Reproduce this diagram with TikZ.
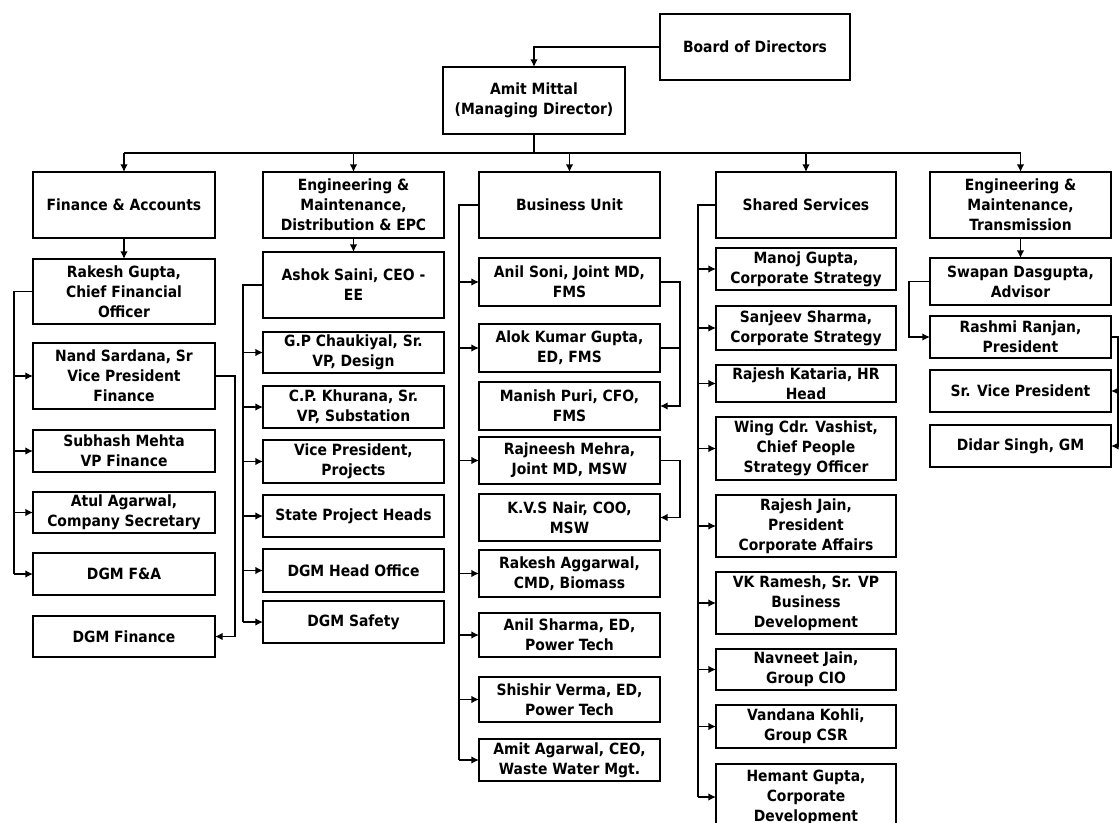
\documentclass[tikz,border=0pt]{standalone}
\usepackage{fontspec}
\usetikzlibrary{arrows.meta}
\newfontfamily\lbl{DejaVu Sans Condensed}
\tikzset{
  box/.style={draw, line width=1.4pt, inner sep=0pt, outer sep=0pt, align=center,
    anchor=center, font=\lbl\bfseries\fontsize{11}{14.2}\selectfont},
  conn/.style={line width=1.4pt},
  arr/.style={line width=1.4pt, -{Latex[length=5.5pt,width=5.5pt]}}
}
\newcommand{\bx}[6]{%
  \pgfmathsetmacro\bw{(#4-#2)*0.025}%
  \pgfmathsetmacro\bh{(#5-#3)*0.025}%
  \node[box, minimum width=\bw cm, minimum height=\bh cm] (#1) at ({(#2+#4)/2},{(#3+#5)/2}) {#6};}
\begin{document}
\begin{tikzpicture}[x=0.025cm,y=-0.025cm]
\useasboundingbox (0,0) rectangle (1120,823);
\fill[white] (0,0) rectangle (1120,823);
\clip (0,0) rectangle (1120,823);
% top
\bx{bod}{660}{14}{850}{80}{Board of Directors}
\bx{amit}{443}{67}{625}{134}{Amit Mittal\\(Managing Director)}
% level 1
\bx{fa}{33}{172}{215}{238}{Finance \& Accounts}
\bx{emd}{263}{172}{444}{238}{Engineering \&\\Maintenance,\\Distribution \& EPC}
\bx{bu}{479}{172}{660}{238}{Business Unit}
\bx{ss}{716}{172}{896}{238}{Shared Services}
\bx{emt}{930}{172}{1111}{238}{Engineering \&\\Maintenance,\\Transmission}
% column 1
\bx{rakesh}{33}{259}{215}{324}{Rakesh Gupta,\\Chief Financial\\Officer}
\bx{nand}{33}{343}{215}{409}{Nand Sardana, Sr\\Vice President\\Finance}
\bx{subhash}{33}{430}{215}{472}{Subhash Mehta\\VP Finance}
\bx{atul}{33}{492}{215}{533}{Atul Agarwal,\\Company Secretary}
\bx{dgmfa}{33}{553}{215}{595}{DGM F\&A}
\bx{dgmfin}{33}{616}{215}{657}{DGM Finance}
% column 2
\bx{ashok}{263}{252}{444}{318}{Ashok Saini, CEO -\\EE}
\bx{gp}{263}{332}{444}{373}{G.P Chaukiyal, Sr.\\VP, Design}
\bx{cp}{263}{386}{444}{428}{C.P. Khurana, Sr.\\VP, Substation}
\bx{vpp}{263}{440}{444}{483}{Vice President,\\Projects}
\bx{sph}{263}{495}{444}{537}{State Project Heads}
\bx{dgmho}{263}{549}{444}{592}{DGM Head Office}
\bx{dgms}{263}{601}{444}{643}{DGM Safety}
% column 3
\bx{anils}{479}{258}{660}{306}{Anil Soni, Joint MD,\\FMS}
\bx{alok}{479}{324}{660}{372}{Alok Kumar Gupta,\\ED, FMS}
\bx{manish}{479}{382}{660}{430}{Manish Puri, CFO,\\FMS}
\bx{rajneesh}{479}{437}{660}{484}{Rajneesh Mehra,\\Joint MD, MSW}
\bx{kvs}{479}{494}{660}{541}{K.V.S Nair, COO,\\MSW}
\bx{rakesha}{479}{550}{660}{597}{Rakesh Aggarwal,\\CMD, Biomass}
\bx{anilsh}{479}{613}{660}{657}{Anil Sharma, ED,\\Power Tech}
\bx{shishir}{479}{677}{660}{722}{Shishir Verma, ED,\\Power Tech}
\bx{amita}{479}{739}{660}{781}{Amit Agarwal, CEO,\\Waste Water Mgt.}
% column 4
\bx{manoj}{716}{248}{896}{290}{Manoj Gupta,\\Corporate Strategy}
\bx{sanjeev}{716}{306}{896}{350}{Sanjeev Sharma,\\Corporate Strategy}
\bx{kataria}{716}{365}{896}{402}{Rajesh Kataria, HR\\Head}
\bx{wing}{716}{417}{896}{480}{Wing Cdr. Vashist,\\Chief People\\Strategy Officer}
\bx{jain}{716}{495}{896}{557}{Rajesh Jain,\\President\\Corporate Affairs}
\bx{vk}{716}{572}{896}{634}{VK Ramesh, Sr. VP\\Business\\Development}
\bx{navneet}{716}{649}{896}{690}{Navneet Jain,\\Group CIO}
\bx{vandana}{716}{705}{896}{748}{Vandana Kohli,\\Group CSR}
\bx{hemant}{716}{764}{896}{830}{Hemant Gupta,\\Corporate\\Development}
% column 5
\bx{swapan}{930}{258}{1111}{305}{Swapan Dasgupta,\\Advisor}
\bx{rashmi}{930}{316}{1111}{358}{Rashmi Ranjan,\\President}
\bx{srvp}{930}{370}{1111}{412}{Sr. Vice President}
\bx{didar}{930}{425}{1111}{467}{Didar Singh, GM}
% bus coordinates
\coordinate (top) at (0,153);
\coordinate (b1) at (14,0);
\coordinate (r1) at (235,0);
\coordinate (b2) at (243,0);
\coordinate (b3) at (459,0);
\coordinate (r3) at (680,0);
\coordinate (b4) at (698,0);
\coordinate (b5) at (909,0);
\coordinate (r5) at (1118,0);
% top connectors
\draw[arr] (bod.west) -| (amit.north);
\draw[conn] (amit.south) -- (amit.south |- top);
\draw[conn] (fa.north |- top) -- (emt.north |- top);
\foreach \n in {fa,emd,bu,ss,emt} \draw[arr] (\n.north |- top) -- (\n.north);
\draw[arr] (fa.south) -- (rakesh.north);
\draw[arr] (emd.south) -- (ashok.north);
\draw[arr] (emt.south) -- (swapan.north);
% column 1
\draw[conn] (rakesh.west) -- (b1 |- rakesh.west) -- (b1 |- dgmfa.west);
\foreach \n in {nand,subhash,atul,dgmfa} \draw[arr] (b1 |- \n.west) -- (\n.west);
\draw[arr] (nand.east) -- (r1 |- nand.east) -- (r1 |- dgmfin.east) -- (dgmfin.east);
% column 2
\draw[conn] (ashok.west) -- (b2 |- ashok.west) -- (b2 |- dgms.west);
\foreach \n in {gp,cp,vpp,sph,dgmho,dgms} \draw[arr] (b2 |- \n.west) -- (\n.west);
% column 3
\draw[conn] (bu.west) -- (b3 |- bu.west) -- (b3 |- amita.west);
\foreach \n in {anils,alok,rajneesh,rakesha,anilsh,shishir,amita} \draw[arr] (b3 |- \n.west) -- (\n.west);
\draw[conn] (alok.east) -- (r3 |- alok.east);
\draw[arr] (anils.east) -- (r3 |- anils.east) -- (r3 |- manish.east) -- (manish.east);
\draw[arr] (rajneesh.east) -- (r3 |- rajneesh.east) -- (r3 |- kvs.east) -- (kvs.east);
% column 4
\draw[conn] (ss.west) -- (b4 |- ss.west) -- (b4 |- hemant.west);
\foreach \n in {manoj,sanjeev,kataria,wing,jain,vk,navneet,vandana,hemant} \draw[arr] (b4 |- \n.west) -- (\n.west);
% column 5
\draw[arr] (swapan.west) -- (b5 |- swapan.west) -- (b5 |- rashmi.west) -- (rashmi.west);
\draw[conn] (rashmi.east) -- (r5 |- rashmi.east) -- (r5 |- didar.east);
\foreach \n in {srvp,didar} \draw[arr] (r5 |- \n.east) -- (\n.east);
\end{tikzpicture}
\end{document}
